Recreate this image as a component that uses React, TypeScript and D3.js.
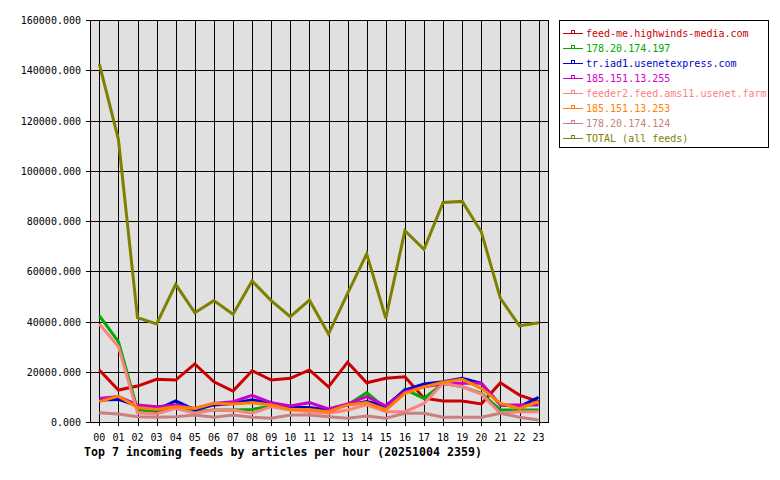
import * as React from 'react';
import * as d3 from 'd3';

const hours = ['00', '01', '02', '03', '04', '05', '06', '07', '08', '09', '10', '11',
  '12', '13', '14', '15', '16', '17', '18', '19', '20', '21', '22', '23'];

const feedNames = [
  'feed-me.highwinds-media.com',
  '178.20.174.197',
  'tr.iad1.usenetexpress.com',
  '185.151.13.255',
  'feeder2.feed.ams11.usenet.farm',
  '185.151.13.253',
  '178.20.174.124',
  'TOTAL (all feeds)',
];

const feedColors = ['#cc0000', '#00aa00', '#0000cc', '#cc00cc', '#ff8080', '#ff8000', '#c88080', '#808000'];

const highwinds = [20700, 12700, 14300, 17000, 16700, 23100, 16000, 12300, 20400, 16700, 17400, 20700,
  14000, 23800, 15600, 17400, 18000, 9500, 8400, 8400, 7200, 15600, 10700, 8100];
const ip197 = [42300, 32000, 4800, 4100, 6100, 4100, 4800, 4800, 5000, 6400, 5000, 5000,
  4800, 6800, 11700, 5400, 13000, 9400, 15400, 14000, 11400, 4800, 4800, 4800];
const usenetexpress = [8800, 9000, 6400, 4800, 8400, 4800, 6800, 7400, 8800, 7700, 5800, 5800,
  4800, 6800, 8100, 6400, 12700, 15100, 16000, 17400, 15400, 6800, 6100, 9800];
const ip255 = [9400, 10100, 6800, 6100, 6800, 5400, 7400, 8100, 10600, 7700, 6400, 7700,
  5200, 7200, 10100, 6400, 12100, 14000, 15100, 15400, 15400, 6800, 6800, 6800];
const ams11 = [39000, 30000, 3700, 3200, 5400, 3500, 4800, 4800, 3500, 6100, 4800, 4100,
  3500, 4800, 6800, 4100, 4100, 7400, 15400, 14000, 11100, 3500, 4100, 4100];
const ip253 = [8100, 10300, 5800, 5000, 6100, 5400, 7400, 7200, 7700, 6800, 5000, 5000,
  4100, 6800, 7700, 4800, 11400, 14000, 15800, 17000, 13400, 7400, 5400, 8100];
const ip124 = [3700, 3200, 2100, 1900, 2100, 2800, 1900, 2800, 1900, 1500, 2800, 2800,
  2100, 1500, 2400, 1500, 3500, 3500, 1900, 1900, 1900, 3500, 1900, 800];
const total = [142500, 112500, 41500, 39000, 54800, 43500, 48300, 42900, 56100, 48300, 41900, 48500,
  35000, 51200, 66900, 41300, 76100, 68700, 87400, 87800, 75700, 49200, 38300, 39500];

const yTicks = [0, 20000, 40000, 60000, 80000, 100000, 120000, 140000, 160000];

const series = [highwinds, ip197, usenetexpress, ip255, ams11, ip253, ip124, total];

export default function App() {
  const ref = React.useRef<SVGSVGElement>(null);

  React.useEffect(() => {
    const svg = d3.select(ref.current);
    svg.selectAll('*').remove();
    const left = 90, right = 548, top = 20, bottom = 422;
    const font = '"DejaVu Sans Mono", monospace';

    const x = d3.scaleLinear().domain([0, 23]).range([99.3, 538.6]);
    const y = d3.scaleLinear().domain([0, 160000]).range([bottom, top]);

    svg.append('rect')
      .attr('x', left).attr('y', top)
      .attr('width', right - left).attr('height', bottom - top)
      .attr('fill', '#e0e0e0');

    // grid
    const grid = svg.append('g').attr('shape-rendering', 'crispEdges').attr('stroke', '#000');
    grid.selectAll('line.h').data(yTicks).enter().append('line')
      .attr('x1', left - 4).attr('x2', right)
      .attr('y1', d => Math.round(y(d)) + 0.5).attr('y2', d => Math.round(y(d)) + 0.5);
    grid.selectAll('line.v').data(hours).enter().append('line')
      .attr('x1', (d, i) => Math.round(x(i)) + 0.5).attr('x2', (d, i) => Math.round(x(i)) + 0.5)
      .attr('y1', top).attr('y2', bottom + 4);

    svg.append('g').selectAll('text').data(yTicks).enter().append('text')
      .attr('x', 81).attr('y', d => y(d) + 4)
      .attr('text-anchor', 'end')
      .attr('font-family', font).attr('font-size', 10)
      .text(d => d.toFixed(3));

    svg.append('g').selectAll('text').data(hours).enter().append('text')
      .attr('x', (d, i) => x(i)).attr('y', 441)
      .attr('text-anchor', 'middle')
      .attr('font-family', font).attr('font-size', 10)
      .text(d => d);

    const line = d3.line<number>()
      .x((d, i) => x(i))
      .y(d => y(d));

    series.forEach((s, k) => {
      svg.append('path')
        .datum(s)
        .attr('fill', 'none')
        .attr('stroke', feedColors[k])
        .attr('stroke-width', 3)
        .attr('stroke-linejoin', 'miter')
        .attr('d', line);
    });

    svg.append('rect')
      .attr('x', left + 0.5).attr('y', top + 0.5)
      .attr('width', right - left).attr('height', bottom - top)
      .attr('fill', 'none').attr('stroke', '#000')
      .attr('shape-rendering', 'crispEdges');

    // legend
    const lg = svg.append('g');
    lg.append('rect')
      .attr('x', 559.5).attr('y', 20.5).attr('width', 209).attr('height', 127)
      .attr('fill', '#fff').attr('stroke', '#000').attr('shape-rendering', 'crispEdges');
    feedNames.forEach((name, k) => {
      const ly = 33 + k * 15;
      lg.append('line')
        .attr('x1', 563).attr('x2', 583).attr('y1', ly + 0.5).attr('y2', ly + 0.5)
        .attr('stroke', feedColors[k]).attr('shape-rendering', 'crispEdges');
      lg.append('rect')
        .attr('x', 571.5).attr('y', ly - 2.5).attr('width', 3).attr('height', 3)
        .attr('fill', '#fff').attr('stroke', feedColors[k]).attr('shape-rendering', 'crispEdges');
      lg.append('text')
        .attr('x', 586).attr('y', ly + 4)
        .attr('font-family', font).attr('font-size', 10)
        .attr('fill', feedColors[k])
        .text(name);
    });

    svg.append('text')
      .attr('x', 84).attr('y', 456)
      .attr('font-family', font).attr('font-size', 11.6).attr('font-weight', 'bold')
      .text('Top 7 incoming feeds by articles per hour (20251004 2359)');
  }, []);

  return (
    <div style={{ position: 'absolute', left: 0, top: 0 }}>
      <svg ref={ref} width={780} height={480} style={{ display: 'block', background: '#fff' }}></svg>
    </div>
  );
}
